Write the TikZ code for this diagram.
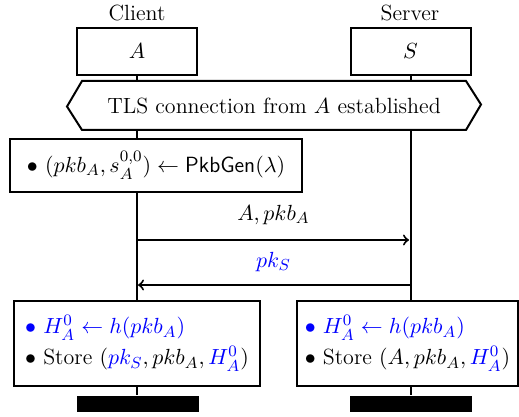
\documentclass[tikz,border=0pt]{standalone}
\usepackage{amsmath,amssymb}
\usetikzlibrary{backgrounds}

\begin{document}
\begin{tikzpicture}[x=0.5pt,y=-0.5pt,line width=1pt,font=\fontsize{11}{15.5}\selectfont,
      party/.style={draw,fill=white,minimum width=60pt,minimum height=23.5pt},
      act box/.style={draw,fill=white,align=left,inner xsep=2pt,inner ysep=0pt},
      end bar/.style={fill=black,inner sep=0pt,minimum width=61pt,minimum height=8pt},
      life/.style={line width=1pt},
      msg/.style={->,shorten >=0.5pt}]
    \useasboundingbox (0,0) rectangle (519,417);
    % parties
    \node (client) at (137,13) {Client};
    \node (server) at (410,13) {Server};
    \node[party] (A) at (137,51.5) {$A$};
    \node[party] (S) at (410.5,51.5) {$S$};
    % TLS hexagon
    \node[minimum width=191pt,minimum height=23.5pt,inner sep=0pt] (tls) at (274,105.5)
      {TLS connection from $A$ established};
    % key generation
    \node[act box,minimum width=146pt,minimum height=26.5pt] (gen) at (156,165.5)
      {$\bullet$ $(pkb_A, s_A^{0,0}) \leftarrow \textsf{PkbGen}(\lambda)$};
    % messages
    \coordinate (m1c) at (137,240);
    \coordinate (m1s) at (410,240);
    \coordinate (m2c) at (137,285);
    \coordinate (m2s) at (410,285);
    \draw[msg] (m1c) -- node[above=4pt] {$A, pkb_A$} (m1s);
    \draw[msg] (m2s) -- node[above=3pt,text=blue] {$pk_S$} (m2c);
    % storing
    \node[act box,minimum width=123pt,minimum height=42.5pt] (storeA) at (137,343.5)
      {\textcolor{blue}{$\bullet$ $H_A^0 \leftarrow h(pkb_A)$}\\
       $\bullet$ Store $(\textcolor{blue}{pk_S}, pkb_A, \textcolor{blue}{H_A^0})$};
    \node[act box,minimum width=110.5pt,minimum height=42.5pt] (storeS) at (407.5,343.5)
      {\textcolor{blue}{$\bullet$ $H_A^0 \leftarrow h(pkb_A)$}\\
       $\bullet$ Store $(A, pkb_A, \textcolor{blue}{H_A^0})$};
    \node[end bar] (barA) at (138,404) {};
    \node[end bar] (barS) at (410.5,404) {};
    % lifelines, then the hexagon over them
    \begin{pgfonlayer}{background}
      \draw[life] (A) -- (barA.north -| A);
      \draw[life] (S) -- (barS.north -| S);
      \draw[life,fill=white] (tls.north west) -- (tls.north east) -- ++(15,23.5)
        -- (tls.south east) -- (tls.south west) -- ++(-15,-23.5) -- cycle;
    \end{pgfonlayer}
\end{tikzpicture}
\end{document}
